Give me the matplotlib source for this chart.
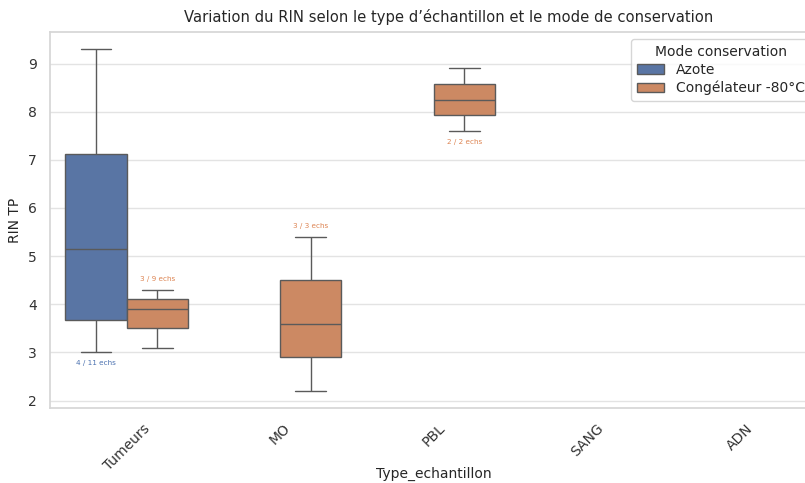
import numpy as np
import pandas as pd
import matplotlib
matplotlib.use("Agg")
import matplotlib.pyplot as plt
import seaborn as sns

# RIN values per sample type and storage mode
categories = ["Tumeurs", "MO", "PBL", "SANG", "ADN"]
modes = ["Azote", "Congélateur -80°C"]

tumeurs_azote = [3.0, 3.9, 6.4, 9.3]
tumeurs_congel = [3.1, 3.9, 4.3]
mo_congel = [2.2, 3.6, 5.4]
pbl_congel = [7.6, 8.9]

# total number of samples in each group (with and without a RIN)
n_total_tumeurs_azote = 11
n_total_tumeurs_congel = 9
n_total_mo_congel = 3
n_total_pbl_congel = 2

groups = [
    ("Tumeurs", "Azote", tumeurs_azote, n_total_tumeurs_azote),
    ("Tumeurs", "Congélateur -80°C", tumeurs_congel, n_total_tumeurs_congel),
    ("MO", "Congélateur -80°C", mo_congel, n_total_mo_congel),
    ("PBL", "Congélateur -80°C", pbl_congel, n_total_pbl_congel),
]

rows = []
for typ, mode, vals, _ in groups:
    for v in vals:
        rows.append({"Type_echantillon": typ, "Mode_conservation": mode, "RIN_TP": v})
df = pd.DataFrame(rows)

sns.set_theme(style="whitegrid", rc={"grid.color": "#e3e3e3", "axes.edgecolor": "#d6d6d6"})
plt.rcParams["font.family"] = ["DejaVu Sans"]

fig = plt.figure(figsize=(8.05, 4.83), dpi=100)
ax = fig.add_axes([50 / 805, 1 - 408 / 483, 767 / 805, 376 / 483])

palette = sns.color_palette("deep", 2)
sns.boxplot(data=df, x="Type_echantillon", y="RIN_TP", hue="Mode_conservation",
            order=categories, hue_order=modes, palette=palette, ax=ax,
            linecolor="#5a5a5a")

# "n with RIN / n total" labels next to each box
offset = 0.4 / 2
for typ, mode, vals, n_tot in groups:
    xi = categories.index(typ) + (-offset if mode == modes[0] else offset)
    color = palette[modes.index(mode)]
    lo, hi = min(vals), max(vals)
    if hi > 8.5:
        y = lo - 0.23
    else:
        y = hi + 0.23
    ax.text(xi, y, f"{len(vals)} / {n_tot} echs", ha="center", va="center",
            fontsize=5.2, color=color)

ax.set_title("Variation du RIN selon le type d’échantillon et le mode de conservation",
             fontsize=10.6, pad=7, x=0.52)
ax.set_xlabel("Type_echantillon", fontsize=10, labelpad=-4)
ax.set_ylabel("RIN TP", fontsize=10)
ax.tick_params(axis="both", labelsize=10, labelcolor="#333333")
for lbl in ax.get_xticklabels():
    lbl.set_rotation(45)
ax.legend(title="Mode conservation", loc="upper right", fontsize=10, title_fontsize=10,
          bbox_to_anchor=(1.0, 1.0), labelspacing=0.3)

fig.savefig("out.png", dpi=100)
